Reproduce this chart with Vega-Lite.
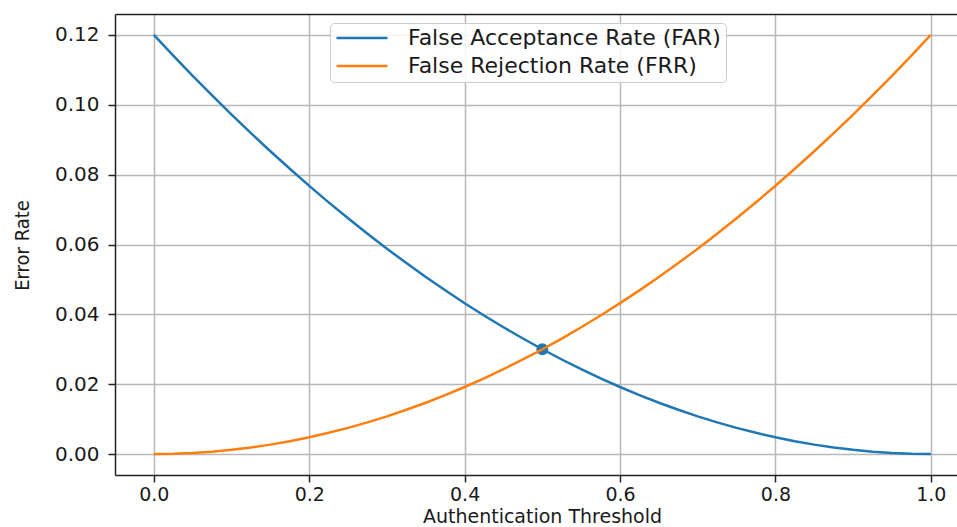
{
  "$schema": "https://vega.github.io/schema/vega-lite/v6.json",
  "autosize": {"type": "none"},
  "padding": {"left": 115, "top": 14, "right": 0, "bottom": 52},
  "width": 842,
  "height": 461,
  "background": "white",
  "config": {
    "view": {"stroke": null},
    "font": "DejaVu Sans",
    "axis": {
      "labelFont": "DejaVu Sans",
      "labelFontSize": 20,
      "labelColor": "#1a1a1a",
      "domainColor": "#222222",
      "domainWidth": 1.5,
      "tickColor": "#222222",
      "tickWidth": 1.5,
      "tickSize": 7,
      "gridColor": "#b8b8b8",
      "gridWidth": 1.5,
      "titleFont": "DejaVu Sans",
      "titleFontWeight": "normal",
      "titleColor": "#1a1a1a"
    }
  },
  "datasets": {
    "curves": [
      {"t": 0.0, "FAR": 0.12, "FRR": 0.0},
      {"t": 0.025, "FAR": 0.114075, "FRR": 0.000075},
      {"t": 0.05, "FAR": 0.1083, "FRR": 0.0003},
      {"t": 0.075, "FAR": 0.102675, "FRR": 0.000675},
      {"t": 0.1, "FAR": 0.0972, "FRR": 0.0012},
      {"t": 0.125, "FAR": 0.091875, "FRR": 0.001875},
      {"t": 0.15, "FAR": 0.0867, "FRR": 0.0027},
      {"t": 0.175, "FAR": 0.081675, "FRR": 0.003675},
      {"t": 0.2, "FAR": 0.0768, "FRR": 0.0048},
      {"t": 0.225, "FAR": 0.072075, "FRR": 0.006075},
      {"t": 0.25, "FAR": 0.0675, "FRR": 0.0075},
      {"t": 0.275, "FAR": 0.063075, "FRR": 0.009075},
      {"t": 0.3, "FAR": 0.0588, "FRR": 0.0108},
      {"t": 0.325, "FAR": 0.054675, "FRR": 0.012675},
      {"t": 0.35, "FAR": 0.0507, "FRR": 0.0147},
      {"t": 0.375, "FAR": 0.046875, "FRR": 0.016875},
      {"t": 0.4, "FAR": 0.0432, "FRR": 0.0192},
      {"t": 0.425, "FAR": 0.039675, "FRR": 0.021675},
      {"t": 0.45, "FAR": 0.0363, "FRR": 0.0243},
      {"t": 0.475, "FAR": 0.033075, "FRR": 0.027075},
      {"t": 0.5, "FAR": 0.03, "FRR": 0.03},
      {"t": 0.525, "FAR": 0.027075, "FRR": 0.033075},
      {"t": 0.55, "FAR": 0.0243, "FRR": 0.0363},
      {"t": 0.575, "FAR": 0.021675, "FRR": 0.039675},
      {"t": 0.6, "FAR": 0.0192, "FRR": 0.0432},
      {"t": 0.625, "FAR": 0.016875, "FRR": 0.046875},
      {"t": 0.65, "FAR": 0.0147, "FRR": 0.0507},
      {"t": 0.675, "FAR": 0.012675, "FRR": 0.054675},
      {"t": 0.7, "FAR": 0.0108, "FRR": 0.0588},
      {"t": 0.725, "FAR": 0.009075, "FRR": 0.063075},
      {"t": 0.75, "FAR": 0.0075, "FRR": 0.0675},
      {"t": 0.775, "FAR": 0.006075, "FRR": 0.072075},
      {"t": 0.8, "FAR": 0.0048, "FRR": 0.0768},
      {"t": 0.825, "FAR": 0.003675, "FRR": 0.081675},
      {"t": 0.85, "FAR": 0.0027, "FRR": 0.0867},
      {"t": 0.875, "FAR": 0.001875, "FRR": 0.091875},
      {"t": 0.9, "FAR": 0.0012, "FRR": 0.0972},
      {"t": 0.925, "FAR": 0.000675, "FRR": 0.102675},
      {"t": 0.95, "FAR": 0.0003, "FRR": 0.1083},
      {"t": 0.975, "FAR": 0.000075, "FRR": 0.114075},
      {"t": 1.0, "FAR": 0.0, "FRR": 0.12}
    ],
    "eer": [{"t": 0.5, "rate": 0.03}]
  },
  "resolve": {"axis": {"x": "independent", "y": "independent"}},
  "layer": [
    {
      "data": {"name": "eer"},
      "mark": {"type": "point", "filled": true, "shape": "circle", "size": 140, "color": "#1f77b4", "opacity": 1},
      "encoding": {
        "x": {"field": "t", "type": "quantitative",
          "scale": {"domain": [-0.05, 1.0337], "nice": false, "zero": false},
          "axis": {"orient": "top", "labels": false, "ticks": false, "grid": false, "title": null, "domain": true}},
        "y": {"field": "rate", "type": "quantitative",
          "scale": {"domain": [-0.006, 0.126], "nice": false, "zero": false},
          "axis": {"orient": "right", "labels": false, "ticks": false, "grid": false, "title": null, "domain": false}}
      }
    },
    {
      "data": {"name": "curves"},
      "transform": [{"fold": ["FAR", "FRR"], "as": ["series", "rate"]}],
      "mark": {"type": "line", "strokeWidth": 2.5, "clip": true},
      "encoding": {
        "x": {"field": "t", "type": "quantitative",
          "scale": {"domain": [-0.05, 1.0337], "nice": false, "zero": false},
          "axis": {"orient": "bottom", "grid": true, "values": [0, 0.2, 0.4, 0.6, 0.8, 1.0], "format": ".1f",
            "labelFontSize": 19, "labelPadding": 3, "title": "Authentication Threshold", "titleFontSize": 19,
            "titleX": 427, "titleY": 47, "titleBaseline": "alphabetic", "titleAlign": "center"}},
        "y": {"field": "rate", "type": "quantitative",
          "scale": {"domain": [-0.006, 0.126], "nice": false, "zero": false},
          "axis": {"orient": "left", "grid": true, "values": [0, 0.02, 0.04, 0.06, 0.08, 0.1, 0.12], "format": ".2f",
            "labelPadding": 9, "title": "Error Rate", "titleFont": "Liberation Sans Narrow, DejaVu Sans Condensed, DejaVu Sans",
            "titleFontSize": 20, "titleAngle": -90, "titleX": -93, "titleY": 231, "titleBaseline": "middle", "titleAlign": "center"}},
        "color": {"field": "series", "type": "nominal",
          "scale": {"domain": ["FAR", "FRR"], "range": ["#1f77b4", "#ff7f0e"]},
          "legend": {
            "title": null, "orient": "none", "legendX": 215, "legendY": 9,
            "labelExpr": "datum.value == 'FAR' ? 'False Acceptance Rate (FAR)' : 'False Rejection Rate (FRR)'",
            "labelFont": "DejaVu Sans", "labelFontSize": 22, "labelColor": "#1a1a1a", "labelLimit": 0,
            "symbolType": "stroke", "symbolSize": 2600, "symbolStrokeWidth": 2.5,
            "labelOffset": 19, "padding": 5, "rowPadding": 6, "clipHeight": 20,
            "fillColor": "rgba(255,255,255,0.85)", "strokeColor": "#cccccc", "cornerRadius": 4
          }}
      }
    }
  ]
}
